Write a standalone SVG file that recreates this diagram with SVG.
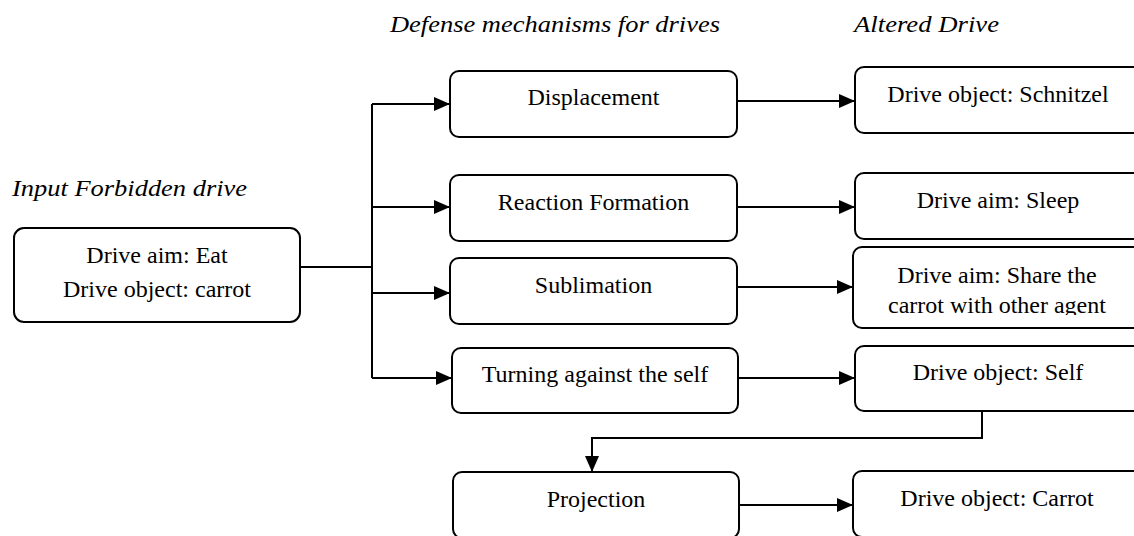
<svg xmlns="http://www.w3.org/2000/svg" width="1134" height="536" viewBox="0 0 1134 536">
  <style>
    .box { fill: #ffffff; stroke: #000000; stroke-width: 2; }
    .lbl { font-family: "Liberation Serif", "Times New Roman", serif; font-size: 24px; fill: #000000; text-anchor: middle; }
    .ttl { font-family: "Liberation Serif", "Times New Roman", serif; font-size: 24px; font-style: italic; fill: #000000; }
    .wire { fill: none; stroke: #000000; stroke-width: 2; }
  </style>
  <defs>
    <marker id="arrow" markerUnits="userSpaceOnUse" markerWidth="16" markerHeight="14" refX="16" refY="7" orient="auto">
      <path d="M0,0 L16,7 L0,14 Z" fill="#000000"/>
    </marker>
    <clipPath id="shareClip">
      <rect x="855" y="248" width="290" height="67"/>
    </clipPath>
  </defs>
  <rect width="1134" height="536" fill="#ffffff"/>

  <!-- column headings -->
  <text class="ttl" x="12" y="196" font-size="22" textLength="235" lengthAdjust="spacingAndGlyphs">Input Forbidden drive</text>
  <text class="ttl" x="390" y="32" textLength="330" lengthAdjust="spacingAndGlyphs">Defense mechanisms for drives</text>
  <text class="ttl" x="854" y="32" textLength="145" lengthAdjust="spacingAndGlyphs">Altered Drive</text>

  <!-- connectors -->
  <g id="connectors">
    <path class="wire" d="M300,267 H372"/>
    <path class="wire" d="M372,104 V378"/>
    <path class="wire" d="M372,104 H450" marker-end="url(#arrow)"/>
    <path class="wire" d="M372,207 H450" marker-end="url(#arrow)"/>
    <path class="wire" d="M372,293 H450" marker-end="url(#arrow)"/>
    <path class="wire" d="M372,378 H452" marker-end="url(#arrow)"/>
    <path class="wire" d="M737,101 H855" marker-end="url(#arrow)"/>
    <path class="wire" d="M737,207 H855" marker-end="url(#arrow)"/>
    <path class="wire" d="M737,287 H853" marker-end="url(#arrow)"/>
    <path class="wire" d="M738,378 H855" marker-end="url(#arrow)"/>
    <path class="wire" d="M739,505 H853" marker-end="url(#arrow)"/>
    <path class="wire" d="M982,411 V438 H592 V472" marker-end="url(#arrow)"/>
  </g>

  <!-- input drive -->
  <g id="input">
    <rect class="box" x="14" y="228" width="286" height="94" rx="10"/>
    <text class="lbl" x="157" y="263">Drive aim: Eat</text>
    <text class="lbl" x="157" y="297">Drive object: carrot</text>
  </g>

  <!-- defense mechanisms -->
  <g id="displacement">
    <rect class="box" x="450" y="71" width="287" height="66" rx="9"/>
    <text class="lbl" x="593.5" y="105">Displacement</text>
  </g>
  <g id="reaction-formation">
    <rect class="box" x="450" y="175" width="287" height="66" rx="9"/>
    <text class="lbl" x="593.5" y="210">Reaction Formation</text>
  </g>
  <g id="sublimation">
    <rect class="box" x="450" y="258" width="287" height="66" rx="9"/>
    <text class="lbl" x="593.5" y="293">Sublimation</text>
  </g>
  <g id="turning-against-self">
    <rect class="box" x="452" y="348" width="286" height="65" rx="9"/>
    <text class="lbl" x="595" y="382">Turning against the self</text>
  </g>
  <g id="projection">
    <rect class="box" x="453" y="472" width="286" height="66" rx="9"/>
    <text class="lbl" x="596" y="507">Projection</text>
  </g>

  <!-- altered drives -->
  <g id="schnitzel">
    <rect class="box" x="855" y="67" width="288" height="66" rx="9"/>
    <text class="lbl" x="998" y="102">Drive object: Schnitzel</text>
  </g>
  <g id="sleep">
    <rect class="box" x="855" y="173" width="288" height="66" rx="9"/>
    <text class="lbl" x="998" y="208">Drive aim: Sleep</text>
  </g>
  <g id="share">
    <rect class="box" x="853" y="247" width="290" height="81" rx="9"/>
    <g clip-path="url(#shareClip)">
      <text class="lbl" x="997" y="283">Drive aim: Share the</text>
      <text class="lbl" x="997" y="313">carrot with other agent</text>
    </g>
  </g>
  <g id="self">
    <rect class="box" x="855" y="346" width="288" height="65" rx="9"/>
    <text class="lbl" x="998" y="380">Drive object: Self</text>
  </g>
  <g id="carrot">
    <rect class="box" x="853" y="471" width="290" height="66" rx="9"/>
    <text class="lbl" x="997" y="506">Drive object: Carrot</text>
  </g>
</svg>
